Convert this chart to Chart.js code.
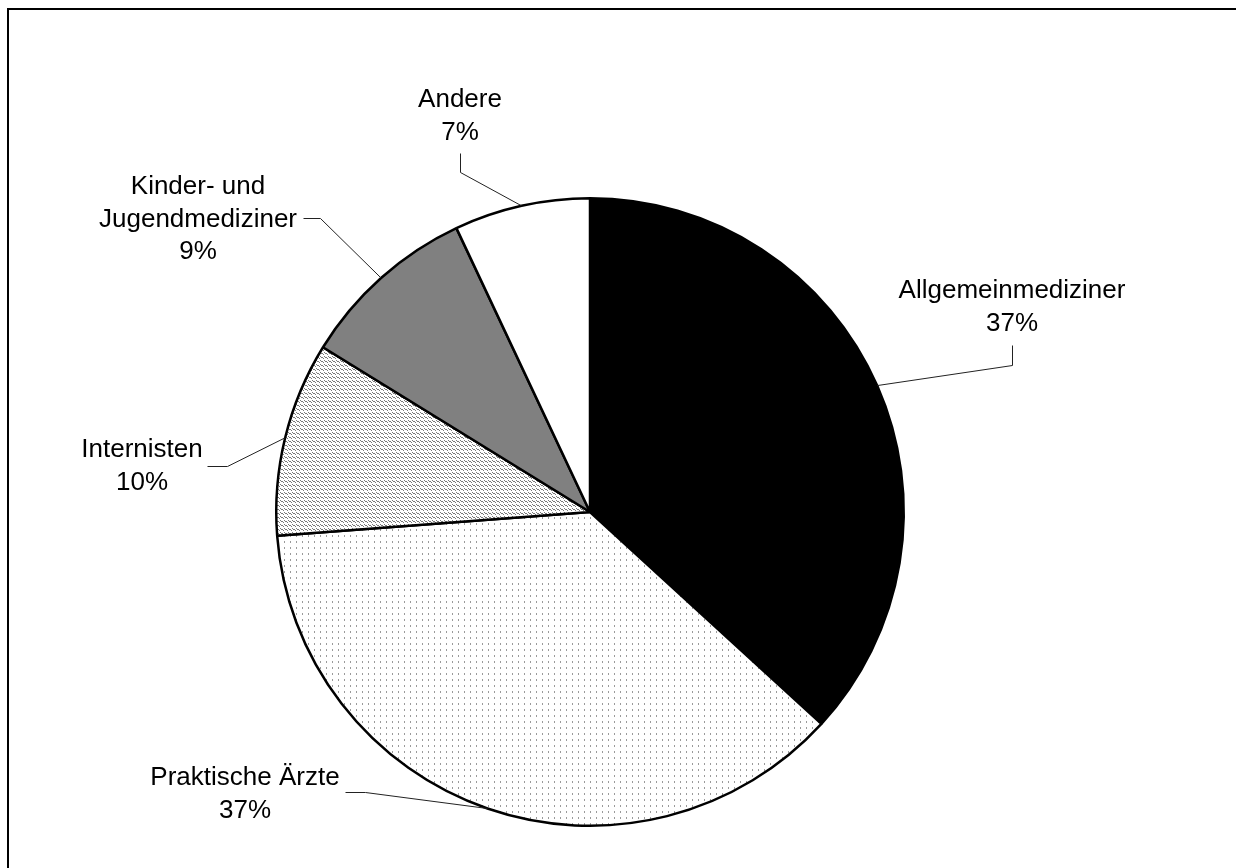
<!DOCTYPE html>
<html>
<head>
<meta charset="utf-8">
<script src="https://cdn.jsdelivr.net/npm/chart.js@4/dist/chart.umd.min.js"></script>
<style>
html,body{margin:0;padding:0;background:#fff;}
canvas{display:block;}
</style>
</head>
<body>
<canvas id="c" width="1236" height="868"></canvas>
<script>
// Data
const categories = ["Allgemeinmediziner", "Praktische Ärzte", "Internisten", "Kinder- und Jugendmediziner", "Andere"];
const labelLines = [["Allgemeinmediziner"], ["Praktische Ärzte"], ["Internisten"], ["Kinder- und", "Jugendmediziner"], ["Andere"]];
const shares = [36.8, 37.0, 10.0, 9.2, 7.0];

// Styling / layout (not data)
function makePattern(w, h, pts, color) {
  const c = document.createElement('canvas');
  c.width = w; c.height = h;
  const x = c.getContext('2d');
  x.fillStyle = '#fff'; x.fillRect(0, 0, w, h);
  x.fillStyle = color;
  pts.forEach(p => x.fillRect(p[0], p[1], p[2] || 1, p[3] || 1));
  return document.getElementById('c').getContext('2d').createPattern(c, 'repeat');
}
const dotPattern = makePattern(6, 6, [[2, 1, 1, 2]], '#9a9a9a');
const hatchPattern = makePattern(4, 4, [[0, 0], [1, 1], [2, 1], [3, 2]], '#7a7a7a');
const fills = ['#000000', dotPattern, hatchPattern, '#808080', '#ffffff'];

// label anchor: text center x, first baseline y, elbow start, elbow
const labelLayout = [
  { tx: 1012, ty: 298, p1: [1012, 345], p2: [1012, 365] },
  { tx: 245, ty: 785, p1: [345, 792], p2: [365, 792] },
  { tx: 142, ty: 457, p1: [207, 466], p2: [227, 466] },
  { tx: 198, ty: 194, p1: [303, 218], p2: [320, 218] },
  { tx: 460, ty: 107, p1: [460, 153], p2: [460, 172] }
];

const labelPlugin = {
  id: 'labels',
  afterDraw(chart) {
    const ctx = chart.ctx;
    const meta = chart.getDatasetMeta(0);
    ctx.save();
    ctx.font = '26px "Liberation Sans", Arial, sans-serif';
    ctx.fillStyle = '#000';
    ctx.textAlign = 'center';
    ctx.textBaseline = 'alphabetic';
    meta.data.forEach((arc, i) => {
      const p = arc.getProps(['x', 'y', 'startAngle', 'endAngle', 'outerRadius'], true);
      const mid = (p.startAngle + p.endAngle) / 2;
      const ex = p.x + Math.cos(mid) * p.outerRadius;
      const ey = p.y + Math.sin(mid) * p.outerRadius;
      const L = labelLayout[i];
      const lines = labelLines[i].concat([Math.round(shares[i]) + '%']);
      lines.forEach((t, k) => ctx.fillText(t, L.tx, L.ty + k * 32.5));
      ctx.beginPath();
      ctx.strokeStyle = '#222';
      ctx.lineWidth = 1;
      ctx.moveTo(L.p1[0] + 0.5, L.p1[1] + 0.5);
      ctx.lineTo(L.p2[0] + 0.5, L.p2[1] + 0.5);
      ctx.lineTo(ex, ey);
      ctx.stroke();
    });
    ctx.restore();
  }
};

const framePlugin = {
  id: 'frame',
  afterDraw(chart) {
    const ctx = chart.ctx;
    ctx.save();
    ctx.strokeStyle = '#000';
    ctx.lineWidth = 2;
    ctx.strokeRect(8, 9, 1300, 900);
    ctx.restore();
  }
};

new Chart(document.getElementById('c'), {
  type: 'pie',
  data: {
    labels: categories,
    datasets: [{
      data: shares,
      backgroundColor: fills,
      borderColor: '#000',
      borderWidth: 2.5
    }]
  },
  options: {
    responsive: false,
    animation: false,
    devicePixelRatio: 1,
    layout: { padding: { left: 0, right: 56, top: 197, bottom: 41 } },
    plugins: { legend: { display: false }, tooltip: { enabled: false } }
  },
  plugins: [labelPlugin, framePlugin]
});
</script>
</body>
</html>
